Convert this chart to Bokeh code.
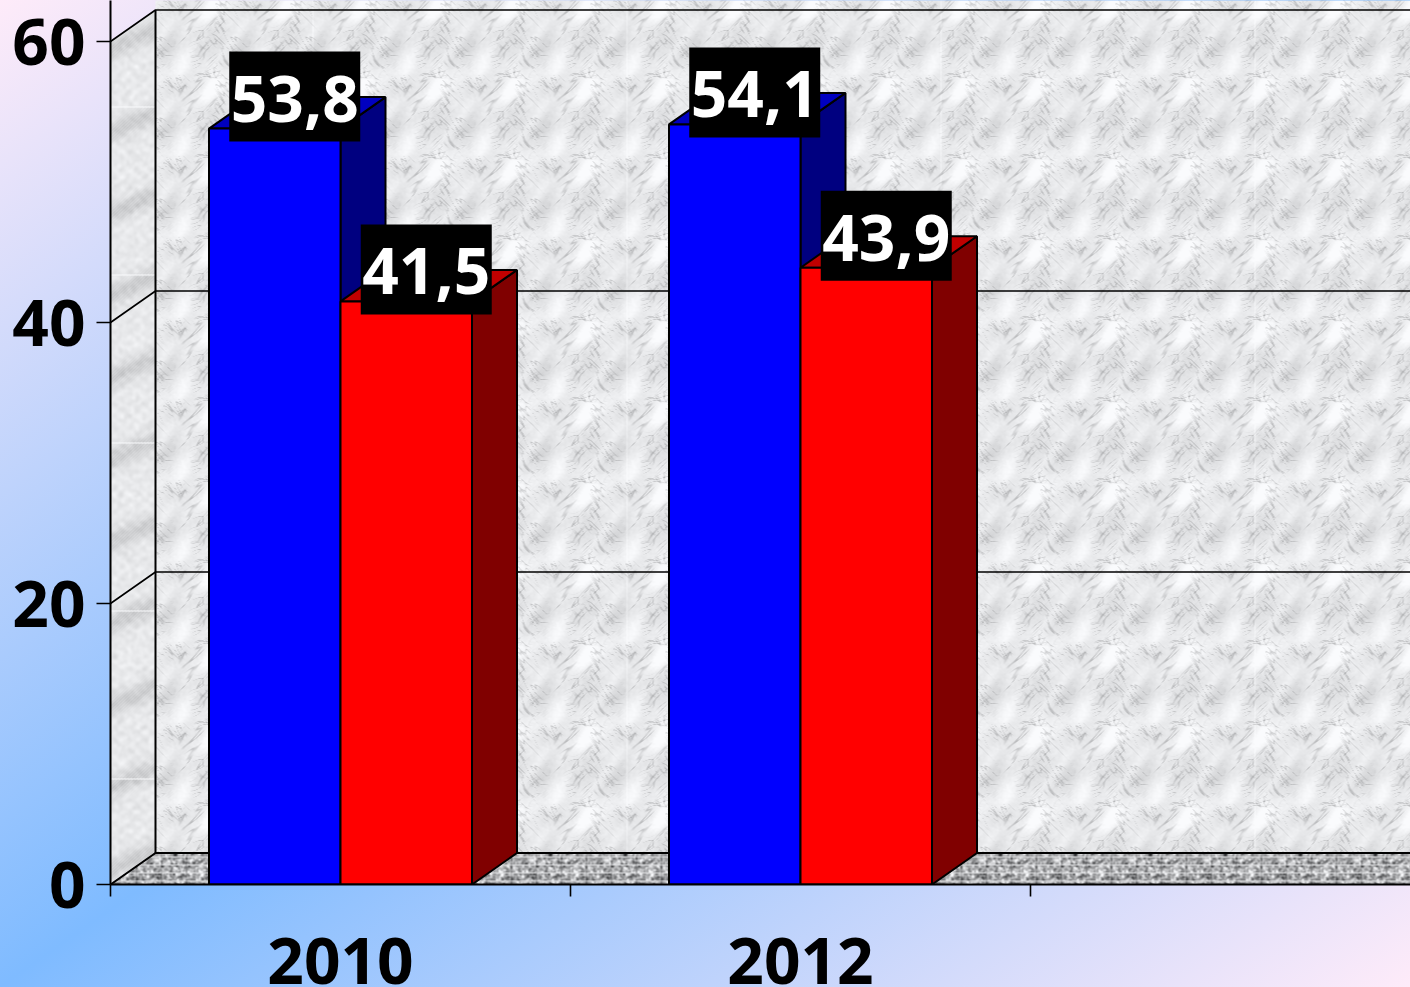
import numpy as np
from bokeh.plotting import figure
from bokeh.models import Range1d, FixedTicker, LinearAxis
from bokeh.core.properties import value
from bokeh.embed import file_html
from bokeh.resources import INLINE

# --- data ---
groups = ["2010", "2012"]
series_blue = [53.8, 54.1]
series_red = [41.5, 43.9]
labels_blue = ["53,8", "54,1"]
labels_red = ["41,5", "43,9"]
y_ticks = [0, 20, 40, 60]
x_ticks = [0, 1, 2]
group_pos = [0.5, 1.5]

FONT = "Open Sans"
FS = "64px"
W, H = 1410, 987
LEFT, BOTTOM = 110, 103
PX_X = 460.0            # pixels per category
PX_Y = 843.0 / 60.0     # pixels per unit
FW, FH = W - LEFT, H - BOTTOM
X_END = FW / PX_X
Y_END = FH / PX_Y
DX = 45 / PX_X          # 3-D depth
DY = 31.5 / PX_Y
BAR_W = 131.5 / PX_X
Y_MAX = 60
LW = 2

p = figure(width=W, height=H, output_backend="svg", toolbar_location=None,
           x_range=Range1d(0, X_END), y_range=Range1d(0, Y_END),
           x_axis_type=None, y_axis_type=None,
           min_border_left=LEFT, min_border_bottom=BOTTOM, min_border_top=0, min_border_right=0)
p.background_fill_color = None
p.border_fill_color = None
p.outline_line_color = None
p.grid.visible = False

# --- textures (decorative wall and floor fills) ---
rng = np.random.default_rng(23)

def periodic_noise(h, w, sx, sy=None, rot=0.0):
    sy = sx if sy is None else sy
    fy = np.fft.fftfreq(h)[:, None]
    fx = np.fft.fftfreq(w)[None, :]
    c, s = np.cos(rot), np.sin(rot)
    u, v = c * fx + s * fy, -s * fx + c * fy
    filt = np.exp(-2 * np.pi ** 2 * ((sx * u) ** 2 + (sy * v) ** 2))
    n = np.fft.ifft2(np.fft.fft2(rng.standard_normal((h, w))) * filt).real
    return n / n.std()

def marble_tile(h, w):
    base = 234 + 7 * periodic_noise(h, w, 11, 5, 0.9)
    veins = np.zeros((h, w))
    for sx, sy, a, rot in ((11, 1.6, 46, 0.8), (6, 1.2, 40, 2.2), (4, 1.3, 34, 0.5)):
        n = periodic_noise(h, w, sx, sy, rot)
        patch = np.clip(periodic_noise(h, w, 9) * 1.0 + 0.1, 0, 1)
        veins += a * np.exp(-(n / 0.2) ** 2) * patch
    return np.clip(base - veins + 1.5 * periodic_noise(h, w, 0.8), 0, 255)

def rgba(grey, alpha=None):
    g = np.clip(grey, 0, 250).astype(np.uint32)
    a = np.full(g.shape, 255, np.uint32) if alpha is None else alpha.astype(np.uint32)
    return (a << 24) | ((g + 3) << 16) | ((g + 1) << 8) | g

tile = marble_tile(81, 75)

# back wall
bw, bh = int(FW - 45), 853
ii = np.arange(bh)[:, None] % 81
jj = np.arange(bw)[None, :] % 75
wall = tile[ii, jj]
wall[:, (np.arange(bw) % 314) == 157] += 10
p.image_rgba(image=[rgba(wall)], x=[DX], y=[DY], dw=[bw / PX_X], dh=[bh / PX_Y])

# side wall: skewed, paler, with streaked bands
sw_h, sw_w = 885, 45
yy, xx = np.mgrid[0:sw_h, 0:sw_w]
page_y = 885 - yy
row = page_y + xx * 0.45
band = np.exp(-((((row - 133 + 41) % 82) - 41) / 11.0) ** 2)
strokes = np.sin((row + xx * 0.5) * 2.1)
side = 233 + 3 * periodic_noise(sw_h, sw_w, 1.5) - band * (28 + 12 * strokes)
side += 4 * np.sin(xx * 2 * np.pi / 15) * np.sin(page_y * 2 * np.pi / 12)
side[(page_y % 168) == 108] = 250
mask = (yy >= xx * 31.5 / 45) & (yy <= 843 + xx * 31.5 / 45)
p.image_rgba(image=[rgba(side, mask * 255)], x=[0], y=[0], dw=[sw_w / PX_X], dh=[sw_h / PX_Y])

# floor: skewed speckle, with stripes and dark clusters repeating across
fl_h, fl_w = 32, int(FW)
yy, xx = np.mgrid[0:fl_h, 0:fl_w]
speck = periodic_noise(fl_h, 75, 0.9)
fl = 172 + 36 * speck[yy, xx % 75]
fl = np.where(yy % 8 == 3, 222, fl)
fl = np.where((xx % 75) % 25 < 2, fl - 30, fl)
fl_mask = xx >= yy * 45 / 31.5
p.image_rgba(image=[rgba(fl, fl_mask * 255)], x=[0], y=[0], dw=[fl_w / PX_X], dh=[fl_h / PX_Y])

# gridlines and edges of the walls
for t in y_ticks[1:]:
    p.line([0, DX, X_END], [t, t + DY, t + DY], line_color="black", line_width=1.6)
p.line([DX, DX], [DY, Y_MAX + DY], line_color="black", line_width=LW)
p.line([0, DX, X_END], [0, DY, DY], line_color="black", line_width=LW)

# 3-D bars
def bars(lefts, vals, front, top, side):
    lefts = np.array(lefts, float)
    rights = lefts + BAR_W
    v = np.array(vals, float)
    tops_x = [[l, l + DX, r + DX, r] for l, r in zip(lefts, rights)]
    tops_y = [[a, a + DY, a + DY, a] for a in v]
    side_x = [[r, r + DX, r + DX, r] for r in rights]
    side_y = [[0, DY, a + DY, a] for a in v]
    p.patches(side_x, side_y, fill_color=side, line_color="black", line_width=LW)
    p.patches(tops_x, tops_y, fill_color=top, line_color="black", line_width=LW)
    p.quad(left=lefts, right=rights, bottom=0, top=v, fill_color=front,
           line_color="black", line_width=LW)

blue_x = [g - BAR_W for g in group_pos]
red_x = list(group_pos)
bars(blue_x, series_blue, "#0000ff", "#0000c0", "#000080")
bars(red_x, series_red, "#ff0000", "#c00000", "#800000")

# data labels
for xs, vals, labs in ((blue_x, series_blue, labels_blue), (red_x, series_red, labels_red)):
    lx = [x + BAR_W / 2 + 20 / PX_X for x in xs]
    ly = [v + 32 / PX_Y for v in vals]
    p.rect(lx, ly, width=131, height=90, width_units="screen", height_units="screen",
           fill_color="black", line_color=None)
    p.text(lx, ly, text=labs, text_color="white", text_font=value(FONT), text_font_style="bold",
           text_font_size=FS, text_align="center", text_baseline="middle", y_offset=2)

# axes
yax = LinearAxis(ticker=FixedTicker(ticks=y_ticks))
yax.major_tick_out = 14
yax.major_tick_in = 0
yax.minor_tick_line_color = None
yax.major_tick_line_width = 1.6
yax.major_tick_line_color = "black"
yax.axis_line_color = "black"
yax.axis_line_width = LW
yax.major_label_standoff = 11
yax.major_label_text_font = FONT
yax.major_label_text_font_style = "bold"
yax.major_label_text_font_size = FS
yax.major_label_text_color = "black"
yax.major_label_orientation = "horizontal"
p.add_layout(yax, "left")

xax = LinearAxis(ticker=FixedTicker(ticks=group_pos, minor_ticks=x_ticks))
xax.major_label_overrides = dict(zip(group_pos, groups))
xax.major_tick_line_color = None
xax.major_tick_out = 0
xax.major_tick_in = 0
xax.minor_tick_out = 12
xax.minor_tick_in = 0
xax.minor_tick_line_width = 1.6
xax.minor_tick_line_color = "black"
xax.axis_line_color = "black"
xax.axis_line_width = LW
xax.major_label_standoff = 41
xax.major_label_text_font = FONT
xax.major_label_text_font_style = "bold"
xax.major_label_text_font_size = FS
xax.major_label_text_color = "black"
p.add_layout(xax, "below")

html = file_html(p, INLINE)
css = ("<style>html{overflow:hidden}"
       "body{background:linear-gradient(to bottom right,#feebf9 0%,#7fbbff 50%,#feebf9 100%) no-repeat fixed;}</style>")
html = html.replace("</head>", css + "</head>", 1)
open("out.html", "w").write(html)
